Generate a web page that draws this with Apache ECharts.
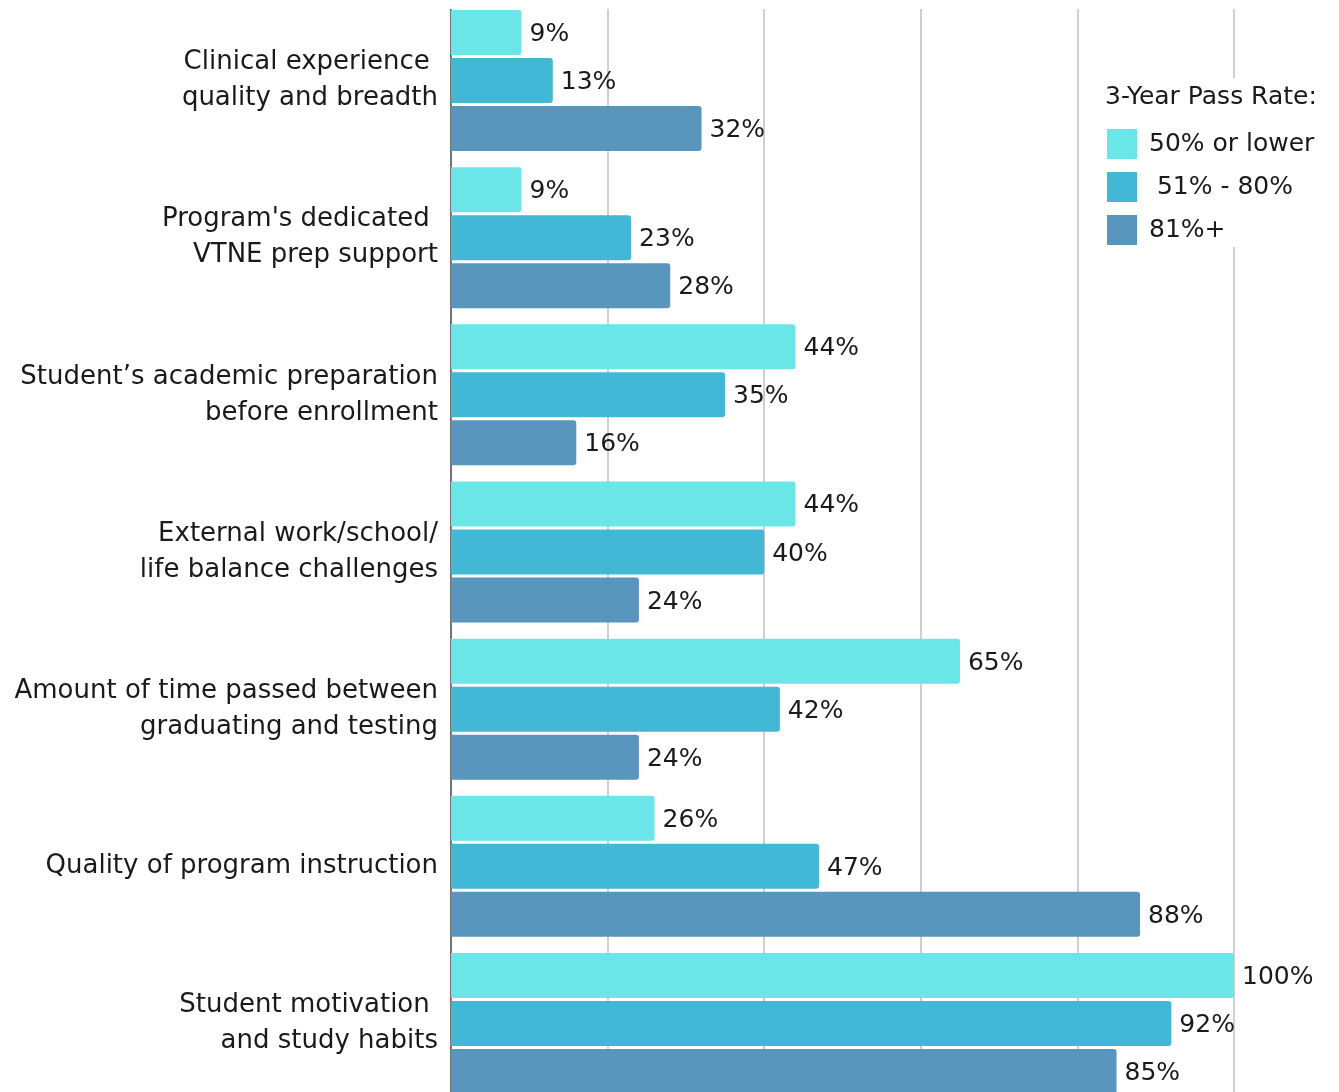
<!DOCTYPE html>
<html>
<head>
<meta charset="utf-8">
<script src="https://cdn.jsdelivr.net/npm/echarts@6/dist/echarts.min.js"></script>
<style>
html,body{margin:0;padding:0;background:#fff;overflow:hidden;}
#c{width:1339px;height:1102px;}
</style>
</head>
<body>
<div id="c"></div>
<script>
const categories = [
  "Clinical experience \nquality and breadth",
  "Program's dedicated \nVTNE prep support",
  "Student\u2019s academic preparation\nbefore enrollment",
  "External work/school/\nlife balance challenges",
  "Amount of time passed between\ngraduating and testing",
  "Quality of program instruction",
  "Student motivation \nand study habits"
];
const seriesNames = ["50% or lower", " 51% - 80%", "81%+"];
const low = [9, 9, 44, 44, 65, 26, 100];
const mid = [13, 23, 35, 40, 42, 47, 92];
const high = [32, 28, 16, 24, 24, 88, 85];
const legendTitle = "3-Year Pass Rate:";
const colors = ["#6ae6e9", "#42b8d6", "#5896bd"];
const FONT = "DejaVu Sans";
const TXT = "#1a1a1a";

const chart = echarts.init(document.getElementById('c'), null, {renderer: 'canvas'});
function mk(name, data, color) {
  return {
    name: name,
    type: 'bar',
    data: data,
    barWidth: 45,
    barGap: '6.7%',
    itemStyle: {color: color, borderRadius: [0, 3, 3, 0]},
    label: {
      show: true, position: 'right', distance: 8, offset: [0, 2],
      formatter: '{c}%', fontSize: 25, color: TXT, fontFamily: FONT
    }
  };
}
chart.setOption({
  animation: false,
  textStyle: {fontFamily: FONT},
  title: {
    text: legendTitle, left: 1105, top: 85, padding: 0,
    textStyle: {fontSize: 25, fontWeight: 'normal', color: TXT, fontFamily: FONT}
  },
  legend: {
    orient: 'vertical', left: 1097, top: 78,
    padding: [51, 40, 2, 10],
    backgroundColor: '#fff',
    itemWidth: 30, itemHeight: 30, itemGap: 13,
    icon: 'rect',
    data: seriesNames,
    textStyle: {fontSize: 25, color: TXT, fontFamily: FONT, padding: [6, 0, 0, 7]}
  },
  grid: {left: 451, right: 105, top: 2, bottom: 0, containLabel: false},
  xAxis: {
    type: 'value', min: 0, max: 100, interval: 20,
    axisLabel: {show: false}, axisTick: {show: false}, axisLine: {show: false},
    splitLine: {show: true, lineStyle: {color: '#cfcfcf', width: 2}}
  },
  yAxis: {
    type: 'category', data: categories, inverse: true,
    axisTick: {show: false},
    axisLine: {show: true, lineStyle: {color: '#555', width: 1.5}},
    axisLabel: {fontSize: 26, lineHeight: 36, color: TXT, margin: 13, align: 'right', fontFamily: FONT, padding: [4, 0, 0, 0]}
  },
  graphic: [{
    type: 'rect', shape: {x: 448, y: 0, width: 891, height: 9},
    style: {fill: '#fff'}, z: 100, silent: true
  }],
  series: [mk(seriesNames[0], low, colors[0]), mk(seriesNames[1], mid, colors[1]), mk(seriesNames[2], high, colors[2])]
});
</script>
</body>
</html>
